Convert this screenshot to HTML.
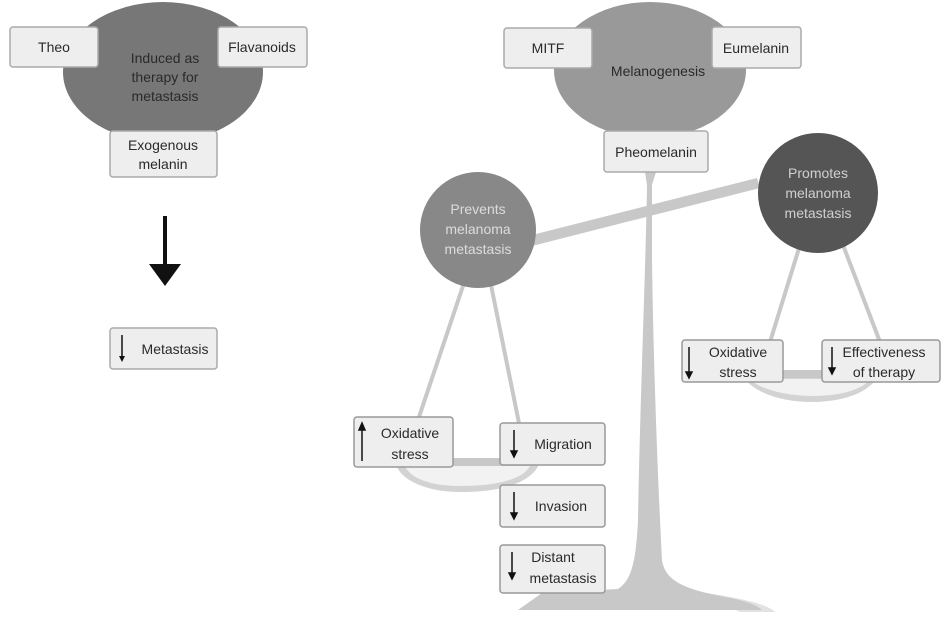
<!DOCTYPE html>
<html><head><style>
html,body{margin:0;padding:0;background:#fff;}
svg text{font-family:"Liberation Sans",sans-serif;font-size:14px;fill:#2a2a2a;text-anchor:middle;}
</style></head><body>
<svg width="945" height="620" viewBox="0 0 945 620" xmlns="http://www.w3.org/2000/svg">
<!-- left group -->
<ellipse cx="163" cy="72" rx="100" ry="70" fill="#777"/>
<text x="165" y="63">Induced as</text>
<text x="165" y="82">therapy for</text>
<text x="165" y="101">metastasis</text>
<g fill="#eee" stroke="#aaa" stroke-width="1.5">
<rect x="10" y="27" width="88" height="40" rx="3"/>
<rect x="218" y="27" width="89" height="40" rx="3"/>
<rect x="110" y="131" width="107" height="46" rx="3"/>
<rect x="110" y="328" width="107" height="41" rx="3"/>
</g>
<text x="54" y="52">Theo</text>
<text x="262" y="52">Flavanoids</text>
<text x="163" y="150">Exogenous</text>
<text x="163" y="169">melanin</text>
<line x1="165" y1="216" x2="165" y2="270" stroke="#111" stroke-width="4"/>
<path d="M149,264 L181,264 L165,286 z" fill="#111"/>
<line x1="122" y1="335" x2="122" y2="357" stroke="#111" stroke-width="1.5"/><path d="M119,356 L125,356 L122,362z" fill="#111"/>
<text x="175" y="354">Metastasis</text>

<!-- right: stand -->
<path d="M700,592 C740,598 768,604 775,612 L740,612 Z" fill="#e2e2e2"/>
<path d="M645,172 L656,172 L652,185 L652,260 C654,400 660,520 662,560 C665,583 690,590 725,597 C748,601 758,606 762,610 L518,610 L542,593 L618,589 C632,580 636,560 638,520 C640,400 646,260 647,185 Z" fill="#c8c8c8"/>
<!-- beam -->
<path d="M528,236 L757,178 L760,188 L650,216 L532,246 Z" fill="#c8c8c8"/>
<!-- strings -->
<g stroke="#c8c8c8" stroke-width="4" fill="none">
<line x1="465" y1="280" x2="418" y2="420"/>
<line x1="490" y1="280" x2="520" y2="428"/>
<line x1="800" y1="245" x2="770" y2="342"/>
<line x1="843" y1="245" x2="880" y2="342"/>
</g>
<!-- pans -->
<path d="M395,462 L540,462 C530,490 480,492 460,492 C430,492 400,482 395,462Z" fill="#d3d3d3"/>
<path d="M405,466 L530,466 C520,484 480,486 460,486 C430,486 410,478 405,466Z" fill="#f2f2f2"/>
<path d="M740,372 L880,372 C870,398 830,402 812,402 C780,402 750,392 740,372Z" fill="#d3d3d3"/>
<path d="M750,379 L870,379 C860,393 830,396 812,396 C785,396 757,388 750,379Z" fill="#f2f2f2"/>
<rect x="400" y="458" width="120" height="8" fill="#c8c8c8"/>
<rect x="740" y="370" width="120" height="8" fill="#c8c8c8"/>

<!-- melanogenesis -->
<ellipse cx="650" cy="70" rx="96" ry="68" fill="#999"/>
<text x="658" y="76">Melanogenesis</text>
<g fill="#eee" stroke="#aaa" stroke-width="1.5">
<rect x="504" y="28" width="88" height="40" rx="3"/>
<rect x="712" y="27" width="89" height="41" rx="3"/>
<rect x="604" y="131" width="104" height="41" rx="3"/>
</g>
<text x="548" y="53">MITF</text>
<text x="756" y="53">Eumelanin</text>
<text x="656" y="157">Pheomelanin</text>

<circle cx="478" cy="230" r="58" fill="#888"/>
<text x="478" y="214" style="fill:#dcdcdc">Prevents</text>
<text x="478" y="234" style="fill:#dcdcdc">melanoma</text>
<text x="478" y="254" style="fill:#dcdcdc">metastasis</text>
<circle cx="818" cy="193" r="60" fill="#555"/>
<text x="818" y="178" style="fill:#d0d0d0">Promotes</text>
<text x="818" y="198" style="fill:#d0d0d0">melanoma</text>
<text x="818" y="218" style="fill:#d0d0d0">metastasis</text>

<g fill="#eee" stroke="#999" stroke-width="1.5">
<rect x="354" y="417" width="99" height="50" rx="3"/>
<rect x="500" y="423" width="105" height="42" rx="3"/>
<rect x="500" y="485" width="105" height="42" rx="3"/>
<rect x="500" y="545" width="105" height="48" rx="3"/>
<rect x="682" y="340" width="101" height="42" rx="3"/>
<rect x="822" y="340" width="118" height="42" rx="3"/>
</g>
<g stroke="#111" stroke-width="1.5" fill="#111">
<line x1="362" y1="428" x2="362" y2="461"/><path d="M359,430 L365,430 L362,423z"/>
<line x1="514" y1="430" x2="514" y2="452"/><path d="M511,451 L517,451 L514,457z"/>
<line x1="514" y1="492" x2="514" y2="514"/><path d="M511,513 L517,513 L514,519z"/>
<line x1="512" y1="552" x2="512" y2="574"/><path d="M509,573 L515,573 L512,579z"/>
<line x1="689" y1="347" x2="689" y2="373"/><path d="M686,372 L692,372 L689,378z"/>
<line x1="832" y1="347" x2="832" y2="369"/><path d="M829,368 L835,368 L832,374z"/>
</g>
<text x="410" y="438">Oxidative</text>
<text x="410" y="459">stress</text>
<text x="563" y="449">Migration</text>
<text x="561" y="511">Invasion</text>
<text x="553" y="562">Distant</text>
<text x="563" y="583">metastasis</text>
<text x="738" y="357">Oxidative</text>
<text x="738" y="377">stress</text>
<text x="884" y="357">Effectiveness</text>
<text x="884" y="377">of therapy</text>
</svg>
</body></html>
